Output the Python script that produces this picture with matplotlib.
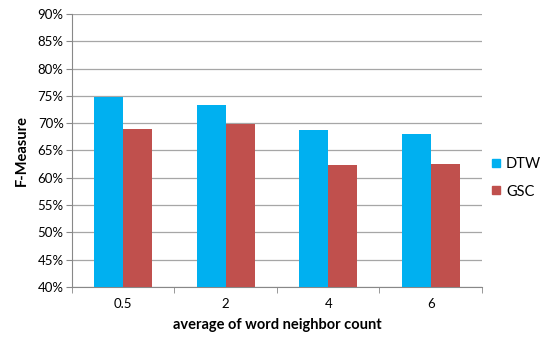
import numpy as np
import matplotlib.pyplot as plt
from matplotlib.ticker import PercentFormatter
from matplotlib.lines import Line2D

plt.rcParams['font.family'] = ['Lato', 'DejaVu Sans']

categories = ['0.5', '2', '4', '6']
dtw = [74.8, 73.4, 68.7, 68.1]
gsc = [69.0, 69.9, 62.3, 62.5]

fig = plt.figure(figsize=(5.49, 3.41), dpi=100)
ax = fig.add_axes([0.1311, 0.1584, 0.7468, 0.8006])

x = np.arange(len(categories))
w = 0.283
ax.bar(x - w / 2, dtw, w, color='#00B0F0', label='DTW', zorder=3)
ax.bar(x + w / 2, gsc, w, color='#C0504D', label='GSC', zorder=3)

ax.set_ylim(40, 90)
ax.set_xlim(-0.5, len(categories) - 0.5)
ax.set_yticks(np.arange(40, 91, 5))
ax.yaxis.set_major_formatter(PercentFormatter(decimals=0))
ax.grid(axis='y', color='#a6a6a6', linewidth=0.9, zorder=0)

ax.set_xticks(x)
ax.set_xticklabels(categories)
ax.set_xticks(np.arange(-0.5, len(categories)), minor=True)
ax.tick_params(axis='x', which='major', length=0, pad=8, labelsize=9.5)
ax.tick_params(axis='x', which='minor', length=4, color='#888888', direction='out')
ax.tick_params(axis='y', length=4, color='#888888', labelsize=9.5, pad=2)

for s in ['top', 'right']:
    ax.spines[s].set_visible(False)
for s in ['left', 'bottom']:
    ax.spines[s].set_color('#888888')

ax.set_ylabel('F-Measure', fontweight='bold', fontsize=10.5, labelpad=6)
ax.set_xlabel('average of word neighbor count', fontweight='bold', fontsize=10.5, labelpad=6)

handles = [Line2D([], [], marker='s', linestyle='none', markersize=6, color='#00B0F0'),
           Line2D([], [], marker='s', linestyle='none', markersize=6, color='#C0504D')]
fig.legend(handles, ['DTW', 'GSC'], loc='center left', bbox_to_anchor=(0.895, 0.478),
           frameon=False, fontsize=10.5, handlelength=0.6, handletextpad=0.4,
           labelspacing=0.9, borderaxespad=0, borderpad=0)

fig.savefig('out.png', dpi=100)
